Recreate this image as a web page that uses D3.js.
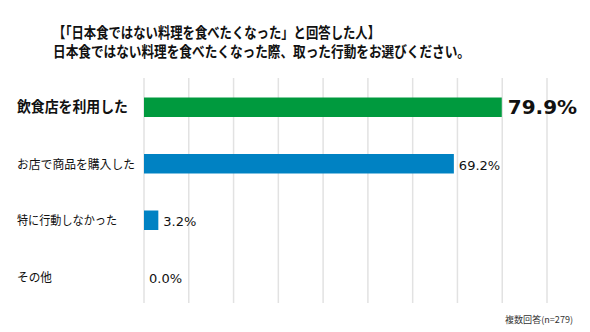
<!DOCTYPE html>
<html><head><meta charset="utf-8">
<script src="https://cdn.jsdelivr.net/npm/d3@7"></script>
<style>
body{margin:0;background:#fff;}
svg{display:block;}
</style></head>
<body><svg id="c" width="590" height="332"></svg>
<script>
const categories = ["飲食店を利用した","お店で商品を購入した","特に行動しなかった","その他"];
const values = [79.9, 69.2, 3.2, 0.0];
const barColors = ["#009a3e","#0082c3","#0082c3","#0082c3"];
const tickValues = [0,10,20,30,40,50,60,70,80,90];
const titleLines = ["【「日本食ではない料理を食べたくなった」と回答した人】","日本食ではない料理を食べたくなった際、取った行動をお選びください。"];
const footnote = "複数回答(n=279)";

const svg = d3.select("#c");
const jp = "'Noto Sans CJK JP', sans-serif";
const num = "'DejaVu Sans', Verdana, sans-serif";

const x = d3.scaleLinear().domain([0,90]).range([144,547]);
const y = d3.scaleBand().domain(categories).range([79,305]).paddingInner(0.655).paddingOuter(0.3275);

// title (one text block, two lines)
const titleW = [327, 417];
const titleY = [37.5, 56.5];
svg.append("text")
  .attr("font-family",jp).attr("font-weight","bold").attr("font-size",15)
  .attr("fill","#111")
  .selectAll("tspan").data(titleLines).join("tspan")
  .attr("x",53).attr("y",(d,i)=>titleY[i])
  .attr("textLength",(d,i)=>titleW[i]).attr("lengthAdjust","spacingAndGlyphs")
  .text(d=>d);

// gridlines
svg.append("g").selectAll("line").data(tickValues).join("line")
  .attr("x1",d=>x(d)).attr("x2",d=>x(d))
  .attr("y1",78).attr("y2",303)
  .attr("stroke","#e2e2e2").attr("stroke-width",1.5);

// bars
svg.append("g").selectAll("rect").data(categories).join("rect")
  .attr("x",x(0)).attr("y",d=>y(d))
  .attr("width",(d,i)=>x(values[i])-x(0))
  .attr("height",y.bandwidth())
  .attr("fill",(d,i)=>barColors[i]);

// category labels
const labW = [111, 118, 100, 35];
svg.append("g").selectAll("text").data(categories).join("text")
  .attr("x",17).attr("y",d=>y(d)+y.bandwidth()/2)
  .attr("dy",(d,i)=>i===0?"0.36em":"0.4em")
  .attr("font-family",jp)
  .attr("font-weight",(d,i)=>i===0?"bold":"normal")
  .attr("font-size",(d,i)=>i===0?14.5:12.5)
  .attr("textLength",(d,i)=>labW[i]).attr("lengthAdjust","spacingAndGlyphs")
  .attr("fill","#111").text(d=>d);

// value labels
svg.append("g").selectAll("text").data(values).join("text")
  .attr("x",(d,i)=>x(d)+(i===0?6:5))
  .attr("y",(d,i)=>y(categories[i])+y.bandwidth()/2)
  .attr("dy",(d,i)=>i===0?"0.36em":"0.45em")
  .attr("font-family",num)
  .attr("font-weight",(d,i)=>i===0?"bold":"normal")
  .attr("font-size",(d,i)=>i===0?20:13)
  .attr("fill","#111")
  .text(d=>d.toFixed(1)+"%");

// footnote
svg.append("text").attr("x",505).attr("y",323)
  .attr("font-family",jp).attr("font-size",9).attr("fill","#333")
  .attr("textLength",68).attr("lengthAdjust","spacingAndGlyphs")
  .text(footnote);
</script></body></html>
